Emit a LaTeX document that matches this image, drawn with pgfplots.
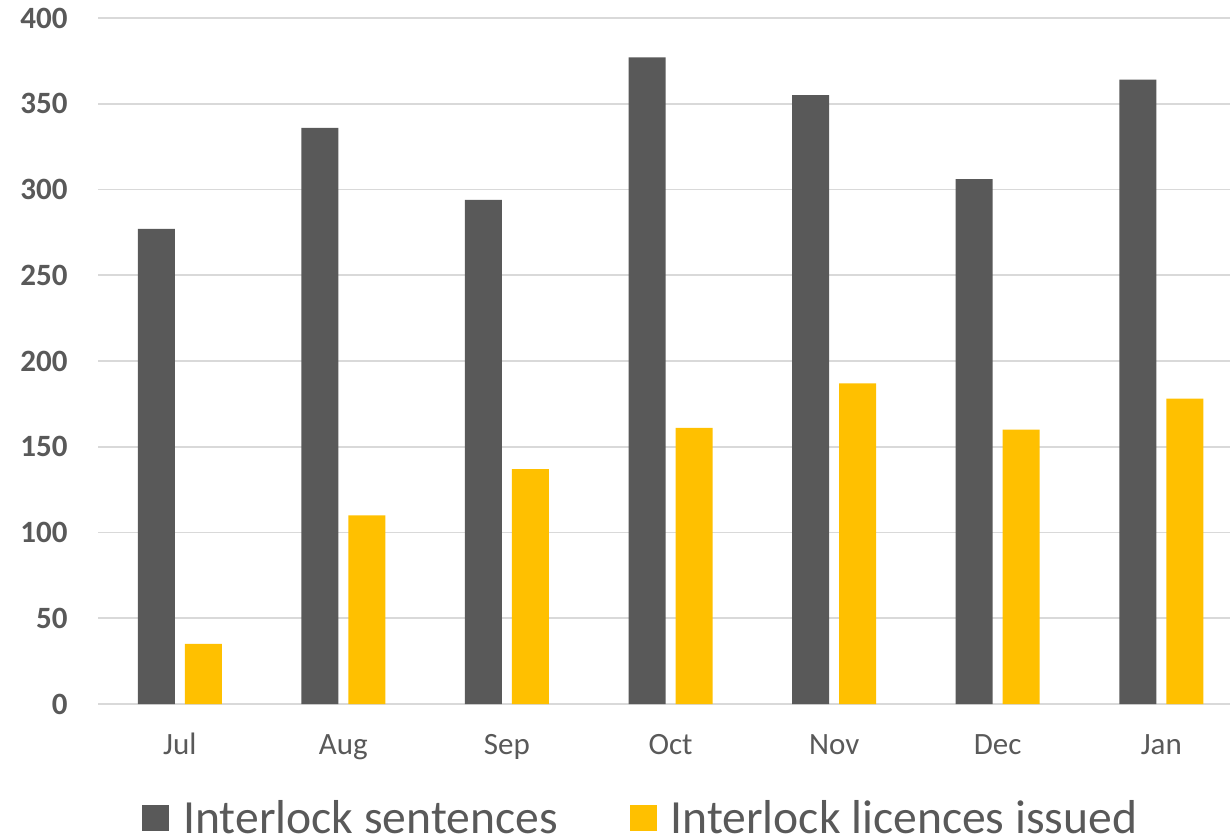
\documentclass[border=0pt]{standalone}
\usepackage{fontspec}
\setmainfont{Carlito}
\usepackage{pgfplots}
\pgfplotsset{compat=1.18}
\definecolor{darkbar}{HTML}{595959}
\definecolor{yellowbar}{HTML}{FFC000}
\definecolor{gridc}{HTML}{D9D9D9}
\definecolor{txt}{HTML}{595959}
\begin{document}
\begin{tikzpicture}
\path[use as bounding box, clip] (0,0) rectangle (615pt,418pt);
\begin{axis}[
  at={(49pt,66pt)}, anchor=south west,
  scale only axis,
  width=566pt, height=343pt,
  xmin=-0.5, xmax=6.42,
  ymin=0, ymax=400,
  ytick={0,50,...,400},
  xtick=data,
  xticklabels={Jul,Aug,Sep,Oct,Nov,Dec,Jan},
  axis line style={draw=none},
  major tick length=0pt,
  ymajorgrids,
  grid style={gridc, line width=0.9pt},
  /pgf/number format/assume math mode=true,
  yticklabel style={font=\fontsize{15.5}{18}\selectfont\bfseries, text=txt, inner sep=0pt, xshift=-15pt},
  xticklabel style={font=\fontsize{15.5}{18}\selectfont, text=txt, inner sep=0pt, anchor=base, yshift=-25pt},
  ybar,
  bar width=18.5pt,
  legend columns=2,
  legend style={draw=none, fill=none, at={(rel axis cs:0,0)}, anchor=west, xshift=22pt, yshift=-57pt,
    inner sep=0pt, font=\fontsize{23.8}{28}\selectfont, text=txt,
    /tikz/every odd column/.append style={column sep=5pt},
    /tikz/every even column/.append style={column sep=34pt}},
  legend image code/.code={\fill[#1,draw=none] (0pt,-6.5pt) rectangle (13.5pt,6.5pt);},
]
\addplot[fill=darkbar, draw=none, bar shift=-11.75pt] coordinates {
(0,277) (1,336) (2,294) (3,377) (4,355) (5,306) (6,364)};
\addplot[fill=yellowbar, draw=none, bar shift=11.75pt] coordinates {
(0,35) (1,110) (2,137) (3,161) (4,187) (5,160) (6,178)};
\legend{Interlock sentences, Interlock licences issued}
\end{axis}
\end{tikzpicture}
\end{document}
